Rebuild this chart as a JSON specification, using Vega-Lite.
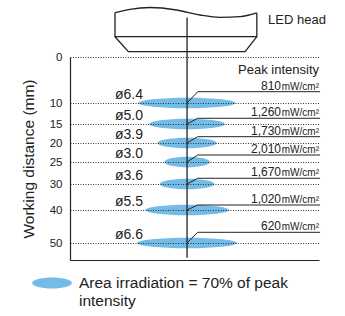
{
  "$schema": "https://vega.github.io/schema/vega-lite/v6.json",
  "autosize": "none",
  "width": 249,
  "height": 203,
  "padding": {"left": 70, "top": 57, "right": 26, "bottom": 56},
  "config": {
    "font": "Liberation Sans",
    "view": {"stroke": null},
    "text": {"color": "#222"}
  },
  "datasets": {
    "rows": [
      {"d": 10, "dia": "ø6.4", "val": "810", "ly": 7.54},
      {"d": 15, "dia": "ø5.0", "val": "1,260", "ly": 13.64},
      {"d": 20, "dia": "ø3.9", "val": "1,730", "ly": 18.34},
      {"d": 25, "dia": "ø3.0", "val": "2,010", "ly": 23.16},
      {"d": 30, "dia": "ø3.6", "val": "1,670", "ly": 28.7},
      {"d": 40, "dia": "ø5.5", "val": "1,020", "ly": 38.08},
      {"d": 50, "dia": "ø6.6", "val": "620", "ly": 46.76}
    ],
    "one": [{}],
    "wave": [
      {"hx": -4.74, "hy": -9.63},
      {"hx": -3.75, "hy": -10.37},
      {"hx": -2.43, "hy": -10.76},
      {"hx": -0.68, "hy": -10.22},
      {"hx": 0.86, "hy": -9.13},
      {"hx": 2.17, "hy": -8.63},
      {"hx": 3.49, "hy": -8.76},
      {"hx": 4.59, "hy": -9.57}
    ],
    "body": [
      {"part": "box", "o": 1, "hx": -4.74, "hy": -9.63},
      {"part": "box", "o": 2, "hx": -4.74, "hy": -4.41},
      {"part": "box", "o": 3, "hx": 4.59, "hy": -4.41},
      {"part": "box", "o": 4, "hx": 4.59, "hy": -9.57},
      {"part": "base", "o": 1, "hx": -4.74, "hy": -4.41},
      {"part": "base", "o": 2, "hx": -3.86, "hy": -1.15},
      {"part": "base", "o": 3, "hx": 3.82, "hy": -1.15},
      {"part": "base", "o": 4, "hx": 4.59, "hy": -4.41}
    ]
  },
  "layer": [
    {
      "data": {"name": "rows"},
      "mark": {"type": "point", "filled": true, "opacity": 1, "strokeWidth": 0, "size": 10000, "clip": false},
      "encoding": {
        "x": {"datum": 0, "type": "quantitative",
          "scale": {"domain": [-7.7, 8.68], "nice": false, "zero": false},
          "axis": {"labels": false, "ticks": false, "grid": false, "title": null, "domainColor": "#222", "domainWidth": 1.2}},
        "y": {"field": "d", "type": "quantitative",
          "scale": {"domain": [0, 10, 15, 20, 25, 30, 40, 50, 55.15], "range": [0, 46, 67, 86, 105, 127, 153, 186, 203], "nice": false, "zero": false},
          "axis": {"title": "Working distance (mm)", "values": [0, 10, 15, 20, 25, 30, 40, 50], "tickCount": 30,
            "ticks": false, "labelPadding": 8, "labelFontSize": 11.5, "labelColor": "#222", "labelOverlap": false, "labelBound": false,
            "titleFontSize": 15.5, "titleFontWeight": "normal", "titleColor": "#222", "titlePadding": 13,
            "domainColor": "#222", "domainWidth": 1.2,
            "grid": true, "gridDash": [1, 1.5], "gridColor": "#333", "gridOpacity": 1, "gridWidth": 1, "zindex": 1}},
        "shape": {"field": "dia", "type": "nominal", "legend": null,
          "scale": {"domain": ["ø6.4", "ø5.0", "ø3.9", "ø3.0", "ø3.6", "ø5.5", "ø6.6"],
            "range": [
              "M-0.973,0A0.973,0.105 0 1,0 0.973,0A0.973,0.105 0 1,0 -0.973,0Z",
              "M-0.76,0A0.76,0.105 0 1,0 0.76,0A0.76,0.105 0 1,0 -0.76,0Z",
              "M-0.593,0A0.593,0.105 0 1,0 0.593,0A0.593,0.105 0 1,0 -0.593,0Z",
              "M-0.456,0A0.456,0.105 0 1,0 0.456,0A0.456,0.105 0 1,0 -0.456,0Z",
              "M-0.547,0A0.547,0.105 0 1,0 0.547,0A0.547,0.105 0 1,0 -0.547,0Z",
              "M-0.836,0A0.836,0.105 0 1,0 0.836,0A0.836,0.105 0 1,0 -0.836,0Z",
              "M-1.003,0A1.003,0.105 0 1,0 1.003,0A1.003,0.105 0 1,0 -1.003,0Z"
            ]}},
        "color": {"datum": "Area irradiation = 70% of peak intensity", "type": "nominal",
          "scale": {"range": ["#74bce8"]},
          "legend": {"orient": "none", "legendX": -38, "legendY": 206, "title": null,
            "symbolType": "M-1,0A1,0.275 0 1,0 1,0A1,0.275 0 1,0 -1,0Z", "symbolSize": 1600,
            "symbolStrokeWidth": 0, "symbolOpacity": 1, "labelFontSize": 15.5, "labelOffset": 7,
            "labelLimit": 0, "labelColor": "#222", "padding": 0,
            "labelExpr": "['Area irradiation = 70% of peak', 'intensity']"}}
      }
    },
    {
      "data": {"name": "one"},
      "mark": {"type": "rule", "color": "#222", "strokeWidth": 1.3, "clip": false},
      "encoding": {
        "x": {"datum": 0, "type": "quantitative"},
        "y": {"datum": -8.6, "type": "quantitative"},
        "y2": {"datum": 54.5}
      }
    },
    {
      "data": {"name": "rows"},
      "mark": {"type": "rule", "color": "#222", "strokeWidth": 1, "clip": false},
      "encoding": {
        "x": {"datum": 0, "type": "quantitative"},
        "x2": {"datum": 0.7},
        "y": {"field": "d", "type": "quantitative"},
        "y2": {"field": "ly"}
      }
    },
    {
      "data": {"name": "rows"},
      "mark": {"type": "rule", "color": "#222", "strokeWidth": 1, "clip": false},
      "encoding": {
        "x": {"datum": 0.7, "type": "quantitative"},
        "x2": {"datum": 8.75},
        "y": {"field": "ly", "type": "quantitative"}
      }
    },
    {
      "data": {"name": "rows"},
      "mark": {"type": "text", "align": "right", "baseline": "alphabetic", "dx": -38, "dy": -2, "fontSize": 12, "clip": false},
      "encoding": {
        "x": {"datum": 8.68, "type": "quantitative"},
        "y": {"field": "ly", "type": "quantitative"},
        "text": {"field": "val"}
      }
    },
    {
      "data": {"name": "rows"},
      "mark": {"type": "text", "align": "right", "baseline": "alphabetic", "dy": -2, "fontSize": 10, "clip": false},
      "encoding": {
        "x": {"datum": 8.68, "type": "quantitative"},
        "y": {"field": "ly", "type": "quantitative"},
        "text": {"value": "mW/cm²"}
      }
    },
    {
      "data": {"name": "rows"},
      "mark": {"type": "text", "align": "center", "baseline": "alphabetic", "dy": -4.5, "fontSize": 14, "clip": false},
      "encoding": {
        "x": {"datum": -3.82, "type": "quantitative"},
        "y": {"field": "d", "type": "quantitative"},
        "text": {"field": "dia"}
      }
    },
    {
      "data": {"name": "one"},
      "mark": {"type": "text", "align": "right", "baseline": "alphabetic", "fontSize": 13, "clip": false},
      "encoding": {
        "x": {"datum": 8.68, "type": "quantitative"},
        "y": {"datum": 3.7, "type": "quantitative"},
        "text": {"value": "Peak intensity"}
      }
    },
    {
      "data": {"name": "one"},
      "mark": {"type": "text", "align": "left", "baseline": "alphabetic", "fontSize": 13, "clip": false},
      "encoding": {
        "x": {"datum": 5.33, "type": "quantitative"},
        "y": {"datum": -7.1, "type": "quantitative"},
        "text": {"value": "LED head"}
      }
    },
    {
      "data": {"name": "wave"},
      "mark": {"type": "line", "color": "#222", "strokeWidth": 1.3, "interpolate": "monotone", "clip": false},
      "encoding": {
        "x": {"field": "hx", "type": "quantitative"},
        "y": {"field": "hy", "type": "quantitative"}
      }
    },
    {
      "data": {"name": "body"},
      "mark": {"type": "line", "color": "#222", "strokeWidth": 1.3, "clip": false},
      "encoding": {
        "x": {"field": "hx", "type": "quantitative"},
        "y": {"field": "hy", "type": "quantitative"},
        "detail": {"field": "part"},
        "order": {"field": "o"}
      }
    }
  ]
}
